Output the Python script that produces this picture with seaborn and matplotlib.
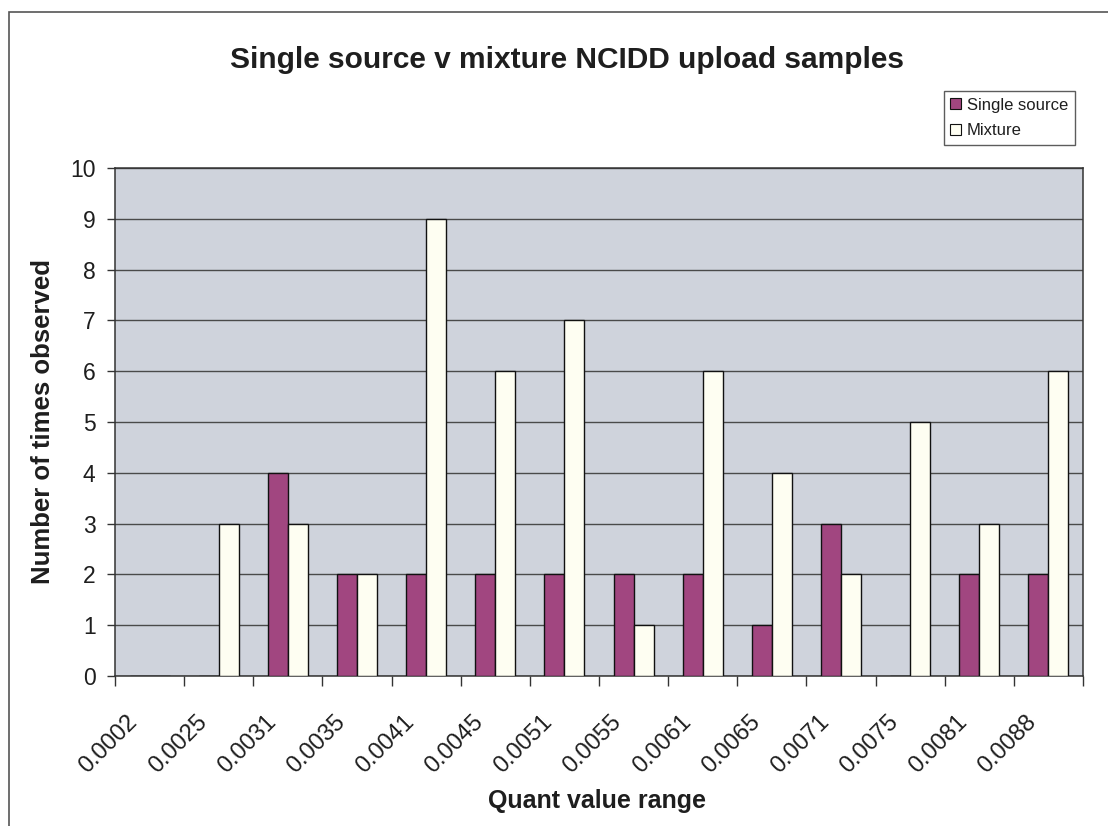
import matplotlib
matplotlib.use("Agg")
import matplotlib.pyplot as plt
import matplotlib.patches as mpatches
import matplotlib.transforms as mtransforms
import seaborn as sns
import pandas as pd

categories = ["0.0002", "0.0025", "0.0031", "0.0035", "0.0041", "0.0045", "0.0051",
              "0.0055", "0.0061", "0.0065", "0.0071", "0.0075", "0.0081", "0.0088"]
single_source = [0, 0, 4, 2, 2, 2, 2, 2, 2, 1, 3, 0, 2, 2]
mixture = [0, 3, 3, 2, 9, 6, 7, 1, 6, 4, 2, 5, 3, 6]
series_names = ["Single source", "Mixture"]
y_ticks = list(range(0, 11))

df = pd.DataFrame({
    "category": categories * 2,
    "value": single_source + mixture,
    "series": [series_names[0]] * len(categories) + [series_names[1]] * len(categories),
})

sns.set_theme(style="white")
plt.rcParams["font.family"] = ["Liberation Sans", "DejaVu Sans"]

PURPLE = "#A14680"
IVORY = "#FEFEF2"
BG = "#CFD3DC"
TXT = "#1E1E1E"

W, H = 1108, 826
fig = plt.figure(figsize=(W / 100, H / 100), dpi=100)
fig.patch.set_facecolor("white")

# chart-area border
fig.patches.append(mpatches.Rectangle((9 / W, -0.1), 1.2, 1 - 12 / H + 0.1,
                                      transform=fig.transFigure, fill=False,
                                      edgecolor="#555555", linewidth=1.2, clip_on=False))

ax = fig.add_axes([115 / W, 1 - 676 / H, (1083 - 115) / W, (676 - 168) / H])
ax.set_facecolor(BG)

sns.barplot(data=df, x="category", y="value", hue="series", order=categories,
            hue_order=series_names, palette=[PURPLE, IVORY], width=0.58,
            dodge=True, gap=0, saturation=1, edgecolor="#111111", linewidth=1.0,
            ax=ax, legend=False, zorder=3)

ax.set_xlim(-0.5, len(categories) - 0.5)
ax.set_ylim(0, 10)
ax.set_yticks(y_ticks)
ax.set_yticklabels([str(t) for t in y_ticks], fontsize=16.5, color=TXT)
ax.yaxis.grid(True, color="#4A4A4A", linewidth=1.0, zorder=1)
ax.set_axisbelow(True)
ax.xaxis.grid(False)

for s in ax.spines.values():
    s.set_visible(True)
    s.set_color("#333333")
    s.set_linewidth(1.1)

ax.tick_params(axis="y", which="major", direction="out", length=6, width=1,
               color="#333333", pad=8, left=True)

# x: labels at category centers, tick marks at boundaries
ax.set_xticks(range(len(categories)))
ax.set_xticklabels(categories, fontsize=17, color=TXT, rotation=45,
                   ha="right", va="top", rotation_mode="anchor")
ax.set_xticks([i - 0.5 for i in range(len(categories) + 1)], minor=True)
ax.tick_params(axis="x", which="major", length=0, pad=25)
ax.tick_params(axis="x", which="minor", direction="out", length=7, width=1,
               color="#333333", bottom=True)
offset = mtransforms.ScaledTranslation(-23 / 100, 0, fig.dpi_scale_trans)
for lab in ax.get_xticklabels():
    lab.set_transform(lab.get_transform() + offset)

ax.set_xlabel("")
ax.set_ylabel("")

fig.text(567 / W, 1 - 60 / H, "Single source v mixture NCIDD upload samples",
         ha="center", va="center", fontsize=21.5, fontweight="bold", color=TXT)
fig.text(597 / W, 1 - 801 / H, "Quant value range", ha="center", va="center",
         fontsize=18, fontweight="bold", color=TXT)
fig.text(43 / W, 1 - 421 / H, "Number of times observed", ha="center", va="center",
         rotation=90, fontsize=18.5, fontweight="bold", color=TXT)

handles = [mpatches.Patch(facecolor=PURPLE, edgecolor="#111111", linewidth=0.8),
           mpatches.Patch(facecolor=IVORY, edgecolor="#111111", linewidth=0.8)]
leg = fig.legend(handles, series_names, loc="upper right",
                 bbox_to_anchor=(1075 / W, 1 - 91 / H), bbox_transform=fig.transFigure,
                 fontsize=12, frameon=True, fancybox=False, borderaxespad=0,
                 handlelength=0.65, handleheight=0.65, handletextpad=0.35,
                 labelspacing=0.62, borderpad=0.4)
leg.get_frame().set_edgecolor("#333333")
leg.get_frame().set_linewidth(1.0)
for t in leg.get_texts():
    t.set_color(TXT)

fig.savefig("out.png", dpi=100, facecolor="white")
